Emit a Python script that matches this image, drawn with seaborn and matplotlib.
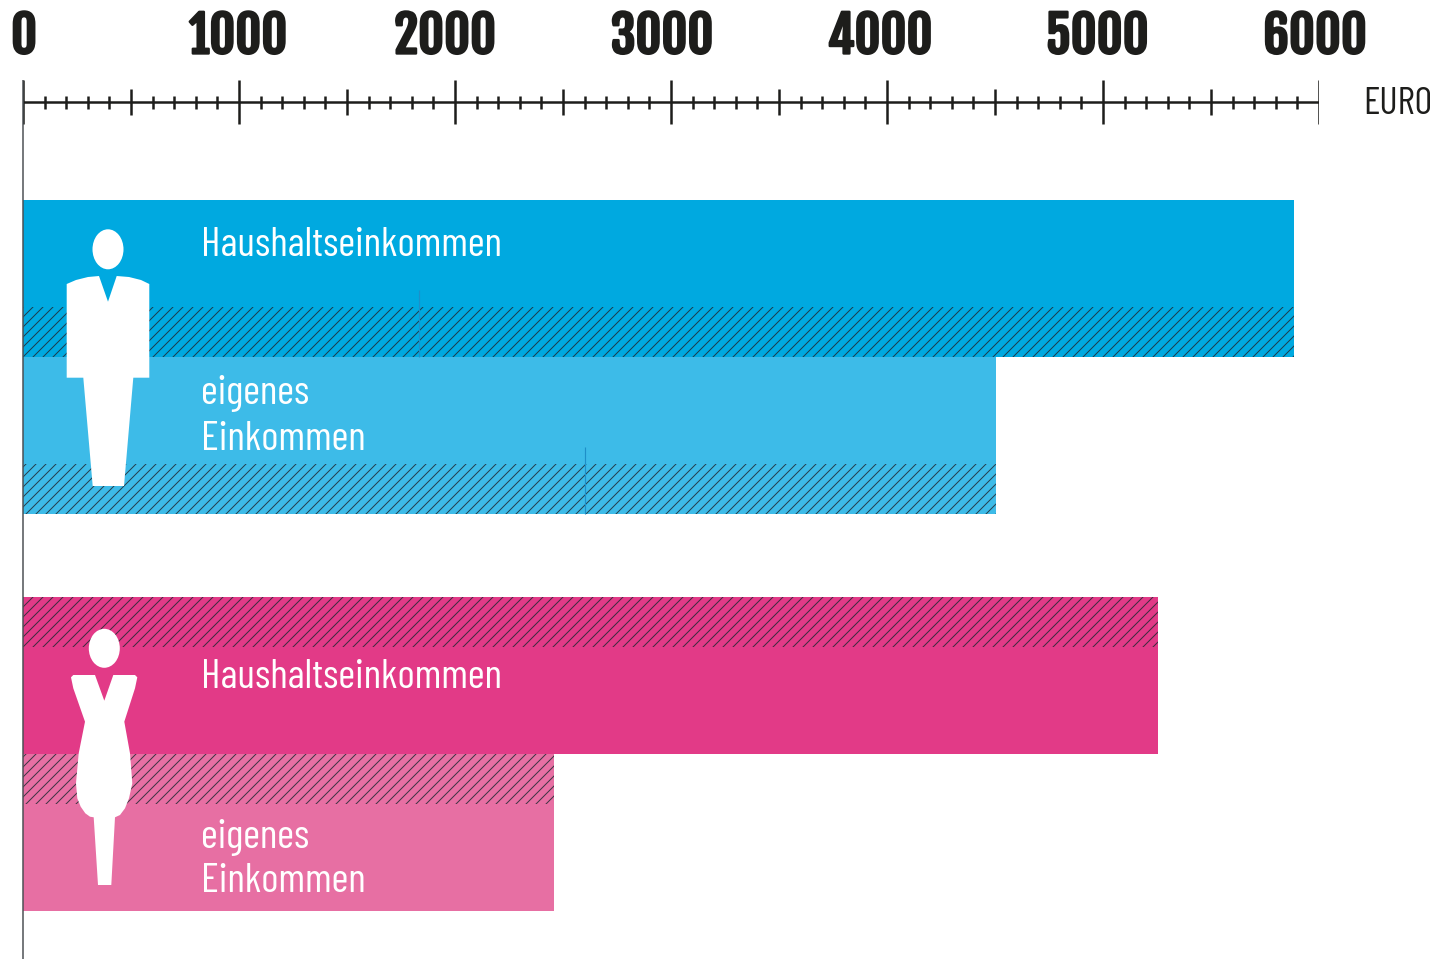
# -*- coding: utf-8 -*-
"""
Haushaltseinkommen und eigenes Einkommen, Maenner und Frauen
"""

import logging
import matplotlib
matplotlib.use('Agg')
import matplotlib.pyplot as plt
import matplotlib.patheffects as pe
from matplotlib.patches import Ellipse, Polygon
import seaborn as sns

logging.getLogger('matplotlib.font_manager').setLevel(logging.ERROR)

W, H = 1441, 959
DPI = 120

categories = ['Haushaltseinkommen', 'eigenes Einkommen']
men_values = [5884, 4505]
women_values = [5255, 2458]
men_colors = ['#00A9E0', '#3DBBE8']
women_colors = ['#E23A87', '#E76FA3']

tick_values = [0, 1000, 2000, 3000, 4000, 5000, 6000]
tick_labels = ['0', '1000', '2000', '3000', '4000', '5000', '6000']
half_ticks = [500, 1500, 2500, 3500, 4500, 5500]
small_ticks = [v for v in range(100, 6000, 100) if v % 500 != 0]

# tick labels in the original sit a bit off their ticks
label_px = [24, 238, 445, 662, 880, 1097, 1315]

INK = '#1D1D1B'
LABEL_FONT = ['Barlow Condensed', 'Roboto Condensed', 'Liberation Sans', 'DejaVu Sans']
DIGIT_FONT = ['Fjalla One', 'Oswald', 'Liberation Sans', 'DejaVu Sans']

sns.set_theme(style='white')
plt.rcParams['font.family'] = LABEL_FONT
plt.rcParams['hatch.linewidth'] = 0.6


def px_axes(fig, left, top, right, bottom):
    return fig.add_axes([left / W, 1 - bottom / H, (right - left) / W, (bottom - top) / H])


def draw_group(ax, values, colors, band_side):
    sns.barplot(x=values, y=categories, hue=categories, palette=colors, width=1,
                saturation=1, linewidth=0, legend=False, dodge=False, ax=ax)
    band = 0.32
    for i, value in enumerate(values):
        if band_side == 'bottom':
            centre = i + 0.5 - band / 2
        else:
            centre = i - 0.5 + band / 2
        ax.barh(centre, value, height=band, facecolor='none', edgecolor='#222A33',
                hatch='////', linewidth=0, alpha=0.85)
    ax.set_xlim(0, 6000)
    ax.set_ylim(1.5, -0.5)
    ax.axis('off')


fig = plt.figure(figsize=(W / DPI, H / DPI), dpi=DPI, facecolor='white')

# bars
ax_men = px_axes(fig, 23, 200, 1319, 514)
draw_group(ax_men, men_values, men_colors, 'bottom')
ax_women = px_axes(fig, 23, 597, 1319, 911)
draw_group(ax_women, women_values, women_colors, 'top')

# scale on top
ax_scale = px_axes(fig, 23, 80, 1319, 130)
ax_scale.set_xlim(0, 6000)
ax_scale.set_ylim(130, 80)
ax_scale.axis('off')
ax_scale.hlines(102, 0, 6000, color=INK, lw=1.5)
ax_scale.vlines(tick_values, 80, 124, color=INK, lw=1.5)
ax_scale.vlines(half_ticks, 89, 115, color=INK, lw=1.5)
ax_scale.vlines(small_ticks, 96, 109, color=INK, lw=1.5)

# overlay in pixels for icons and labels
ov = fig.add_axes([0, 0, 1, 1])
ov.set_xlim(0, W)
ov.set_ylim(H, 0)
ov.axis('off')
ov.patch.set_alpha(0)

ov.vlines(23, 80, 959, color='#4A4F52', lw=0.9)
ov.vlines(419, 290, 357, color='#1E8FC8', lw=0.7)
ov.vlines(585, 447, 514, color='#1E8FC8', lw=0.7)

bold = [pe.withStroke(linewidth=1.4, foreground=INK)]
for lab, x in zip(tick_labels, label_px):
    ov.text(x, 37, lab, ha='center', va='center', fontsize=30, family=DIGIT_FONT, color=INK,
            path_effects=bold)
ov.text(1363, 105, 'EURO', ha='left', va='center', fontsize=23, color=INK)

text_style = dict(ha='left', va='center', fontsize=24.7, color='white')
ov.text(201, 245, 'Haushaltseinkommen', **text_style)
ov.text(201, 394, 'eigenes', **text_style)
ov.text(201, 439, 'Einkommen', **text_style)
ov.text(201, 678, 'Haushaltseinkommen', **text_style)
ov.text(201, 837, 'eigenes', **text_style)
ov.text(201, 881, 'Einkommen', **text_style)

# man
ov.add_patch(Ellipse((108, 249.3), 31, 40, fc='white', ec='none'))
ov.add_patch(Polygon([(99, 276), (88, 277), (76, 280), (66.7, 284), (66.7, 377.7), (83.3, 377.7),
                      (92.7, 486), (124, 486), (133.3, 377.7), (149.3, 377.7), (149.3, 284),
                      (141, 280), (129, 277), (116.7, 276), (108, 301.7)], fc='white', ec='none'))

# woman
ov.add_patch(Ellipse((104.3, 648.3), 31, 39, fc='white', ec='none'))
ov.add_patch(Polygon([(95, 675), (104.3, 700.7), (113.3, 675), (135, 675), (137.3, 677.3),
                      (135, 688.3), (124.3, 721.7), (130, 753.3), (132.3, 783.3), (129, 798.3),
                      (125, 808.3), (120, 815), (115, 817.3), (111.3, 885), (98, 885),
                      (93.7, 817.3), (90, 816.7), (85.3, 813.3), (80.7, 806.7), (77.3, 798.3),
                      (76, 783.3), (78.7, 753.3), (85, 721.7), (73.3, 688.3), (71, 677.3),
                      (73.3, 675)], fc='white', ec='none'))

plt.savefig('out.png', dpi=DPI)
plt.close()
